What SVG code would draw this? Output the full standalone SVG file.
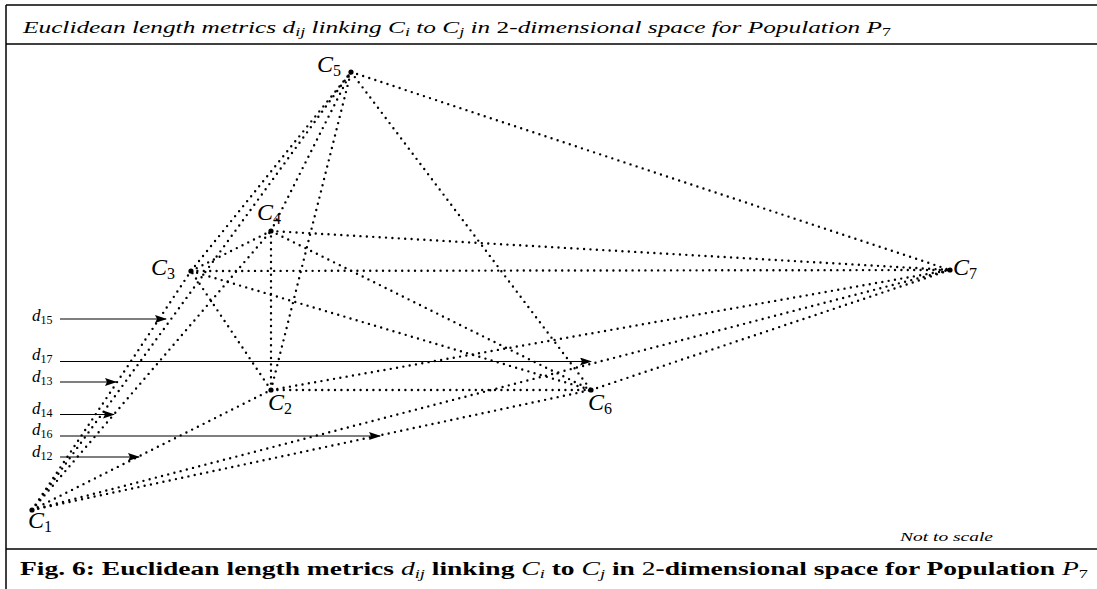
<svg xmlns="http://www.w3.org/2000/svg" width="1097" height="589" viewBox="0 0 1097 589">
<defs>
<style>
.frame{stroke:#000;stroke-width:1.5;fill:none}
.edge{stroke:#000;stroke-width:2.4;stroke-dasharray:0 6.4;stroke-linecap:round;fill:none}
.ptr{stroke:#000;stroke-width:1.1;fill:none;marker-end:url(#ah)}
.dot{fill:#000}
.m{font-family:"Liberation Serif","DejaVu Serif",serif;font-style:italic;fill:#000}
.lab{font-size:24px}
.sub{font-size:16px;font-style:normal}
.dl{font-size:17px}
.dsub{font-size:12px;font-style:normal}
.title{font-family:"Liberation Serif","DejaVu Serif",serif;font-style:italic;font-size:17px}
.cap{font-family:"Liberation Serif","DejaVu Serif",serif;font-weight:bold;font-size:18px}
.note{font-family:"Liberation Serif","DejaVu Serif",serif;font-style:italic;font-size:12px}
</style>
<marker id="ah" markerWidth="12" markerHeight="8" refX="11" refY="4" orient="auto" markerUnits="userSpaceOnUse">
<path d="M0,0 L12,4 L0,8 L2,4 Z" fill="#000"/>
</marker>
</defs>
<rect width="1097" height="589" fill="#fff"/>
<g id="frame">
<line class="frame" x1="6" y1="5" x2="1097" y2="5"/>
<line class="frame" x1="6" y1="5" x2="6" y2="589"/>
<line class="frame" x1="6" y1="44" x2="1097" y2="44"/>
<line class="frame" x1="6" y1="549" x2="1097" y2="549"/>
</g>
<g id="title">
<text class="title" x="23" y="33" textLength="868" lengthAdjust="spacingAndGlyphs">Euclidean length metrics <tspan>d</tspan><tspan font-size="12" dy="3">ij</tspan><tspan dy="-3"> linking C</tspan><tspan font-size="12" dy="3">i</tspan><tspan dy="-3"> to C</tspan><tspan font-size="12" dy="3">j</tspan><tspan dy="-3"> in </tspan><tspan font-style="normal">2</tspan>-dimensional space for Population P<tspan font-size="12" font-style="normal" dy="3">7</tspan></text>
</g>
<g id="connectors">
<line class="edge" x1="32" y1="510" x2="271" y2="390"/>
<line class="edge" x1="32" y1="510" x2="191" y2="271"/>
<line class="edge" x1="32" y1="510" x2="271" y2="231"/>
<line class="edge" x1="32" y1="510" x2="351" y2="72"/>
<line class="edge" x1="32" y1="510" x2="591" y2="390"/>
<line class="edge" x1="32" y1="510" x2="950" y2="270"/>
<line class="edge" x1="271" y1="390" x2="191" y2="271"/>
<line class="edge" x1="271" y1="390" x2="271" y2="231"/>
<line class="edge" x1="271" y1="390" x2="351" y2="72"/>
<line class="edge" x1="271" y1="390" x2="591" y2="390"/>
<line class="edge" x1="271" y1="390" x2="950" y2="270"/>
<line class="edge" x1="191" y1="271" x2="271" y2="231"/>
<line class="edge" x1="191" y1="271" x2="351" y2="72"/>
<line class="edge" x1="191" y1="271" x2="591" y2="390"/>
<line class="edge" x1="191" y1="271" x2="950" y2="270"/>
<line class="edge" x1="271" y1="231" x2="351" y2="72"/>
<line class="edge" x1="271" y1="231" x2="591" y2="390"/>
<line class="edge" x1="271" y1="231" x2="950" y2="270"/>
<line class="edge" x1="351" y1="72" x2="591" y2="390"/>
<line class="edge" x1="351" y1="72" x2="950" y2="270"/>
<line class="edge" x1="591" y1="390" x2="950" y2="270"/>
</g>
<g id="pointers">
<line class="ptr" x1="60" y1="319" x2="166" y2="319"/>
<line class="ptr" x1="60" y1="361.5" x2="591" y2="361.5"/>
<line class="ptr" x1="60" y1="382" x2="116" y2="382"/>
<line class="ptr" x1="60" y1="414.5" x2="114" y2="414.5"/>
<line class="ptr" x1="60" y1="436" x2="380" y2="436"/>
<line class="ptr" x1="60" y1="457" x2="139" y2="457"/>
<text class="m dl" x="32" y="321">d<tspan class="dsub" dy="3">15</tspan></text>
<text class="m dl" x="32" y="360">d<tspan class="dsub" dy="3">17</tspan></text>
<text class="m dl" x="32" y="382">d<tspan class="dsub" dy="3">13</tspan></text>
<text class="m dl" x="32" y="414">d<tspan class="dsub" dy="3">14</tspan></text>
<text class="m dl" x="32" y="435">d<tspan class="dsub" dy="3">16</tspan></text>
<text class="m dl" x="32" y="457">d<tspan class="dsub" dy="3">12</tspan></text>
</g>
<g id="C1"><circle class="dot" cx="32" cy="510" r="2.6"/><text class="m lab" x="28" y="528">C<tspan class="sub" dy="4">1</tspan></text></g>
<g id="C2"><circle class="dot" cx="271" cy="390" r="2.6"/><text class="m lab" x="268" y="410">C<tspan class="sub" dy="4">2</tspan></text></g>
<g id="C3"><circle class="dot" cx="191" cy="271" r="2.6"/><text class="m lab" x="151" y="275">C<tspan class="sub" dy="4">3</tspan></text></g>
<g id="C4"><circle class="dot" cx="271" cy="231" r="2.6"/><text class="m lab" x="257" y="220">C<tspan class="sub" dy="4">4</tspan></text></g>
<g id="C5"><circle class="dot" cx="351" cy="72" r="2.6"/><text class="m lab" x="317" y="72">C<tspan class="sub" dy="4">5</tspan></text></g>
<g id="C6"><circle class="dot" cx="591" cy="390" r="2.6"/><text class="m lab" x="588" y="410">C<tspan class="sub" dy="4">6</tspan></text></g>
<g id="C7"><circle class="dot" cx="950" cy="270" r="2.6"/><text class="m lab" x="953" y="275">C<tspan class="sub" dy="4">7</tspan></text></g>
<text class="note" x="900" y="541" textLength="93" lengthAdjust="spacingAndGlyphs">Not to scale</text>
<g id="caption">
<text class="cap" x="20" y="575" textLength="1068" lengthAdjust="spacingAndGlyphs">Fig. 6: Euclidean length metrics <tspan font-style="italic" font-weight="normal">d</tspan><tspan font-style="italic" font-weight="normal" font-size="12" dy="3">ij</tspan><tspan dy="-3"> linking </tspan><tspan font-style="italic" font-weight="normal">C</tspan><tspan font-style="italic" font-weight="normal" font-size="12" dy="3">i</tspan><tspan dy="-3"> to </tspan><tspan font-style="italic" font-weight="normal">C</tspan><tspan font-style="italic" font-weight="normal" font-size="12" dy="3">j</tspan><tspan dy="-3"> in </tspan><tspan font-weight="normal">2</tspan>-dimensional space for Population <tspan font-style="italic" font-weight="normal">P</tspan><tspan font-weight="normal" font-size="12" dy="3">7</tspan></text>
</g>
</svg>
